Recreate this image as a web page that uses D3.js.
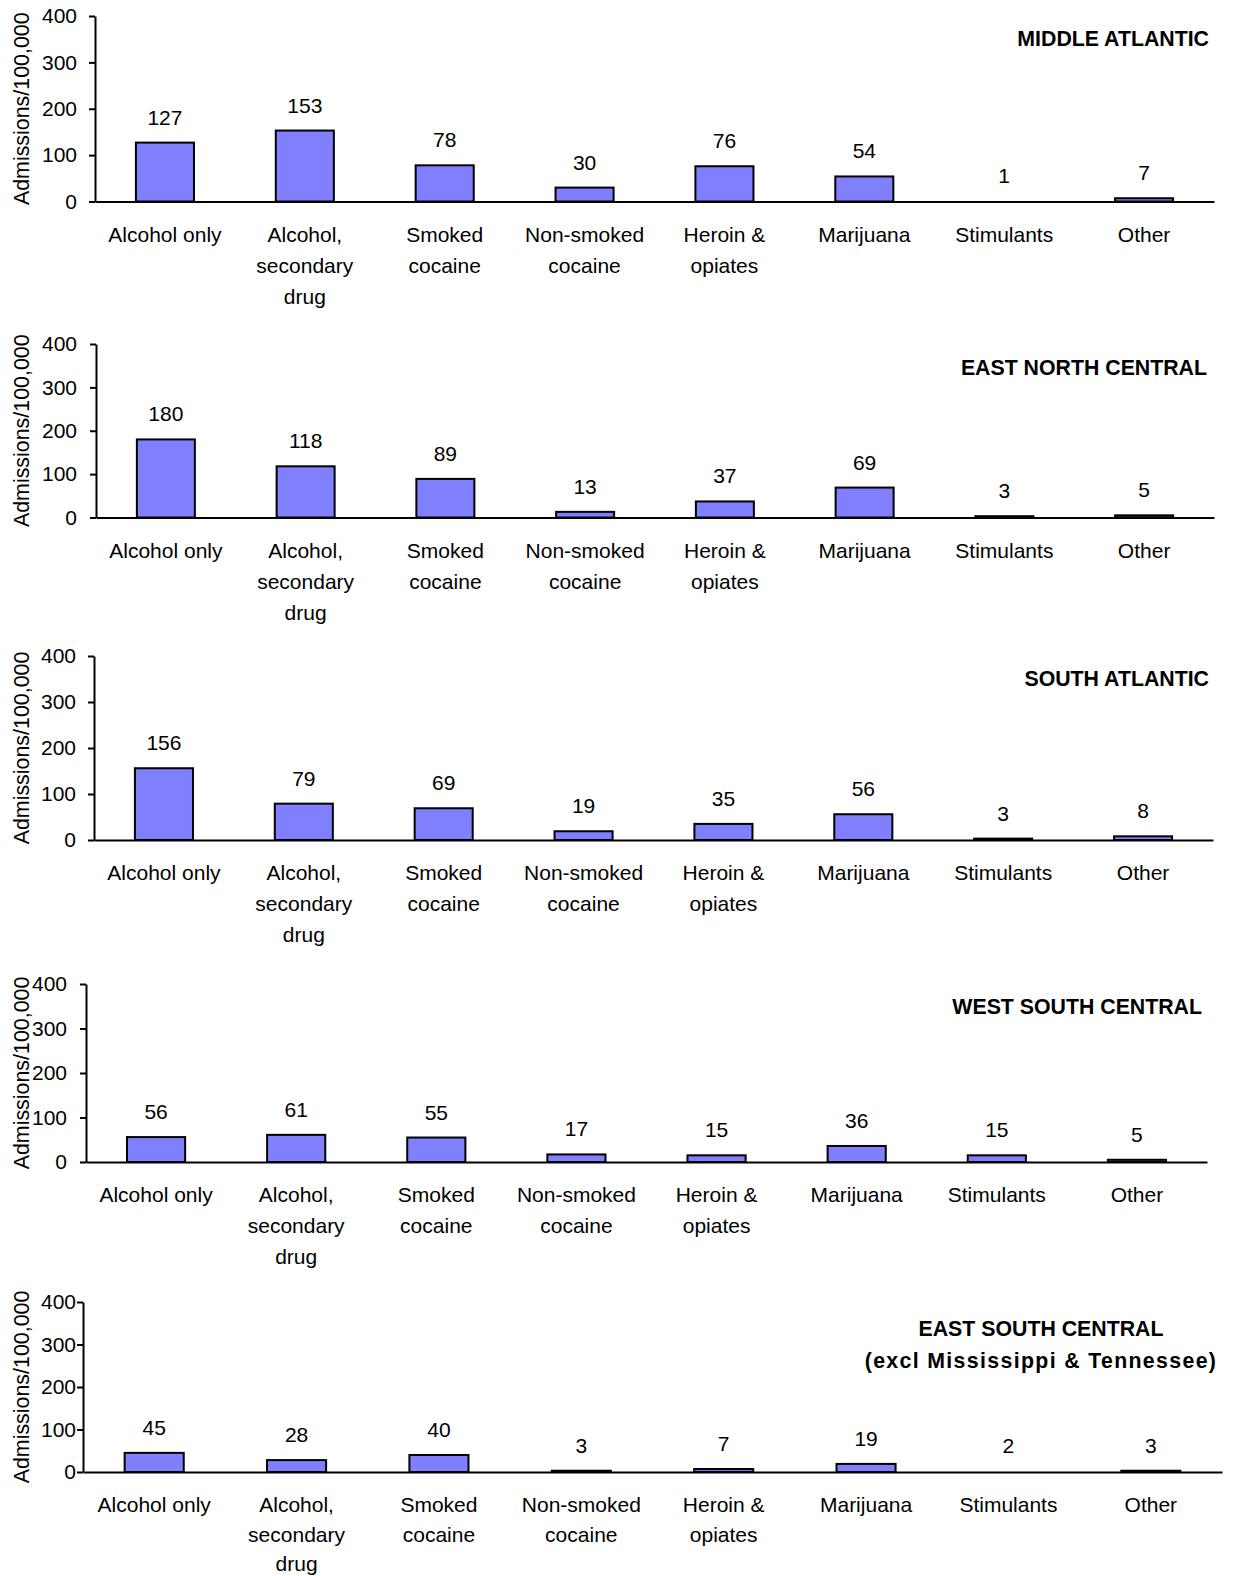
<!DOCTYPE html>
<html>
<head>
<meta charset="utf-8">
<script src="https://cdn.jsdelivr.net/npm/d3@7"></script>
<style>
  html, body { margin: 0; padding: 0; background: #fff; }
  svg text { font-family: "Liberation Sans", Arial, sans-serif; fill: #000; }
</style>
</head>
<body>
<svg id="chart" width="1233" height="1576"></svg>
<script>
// ---------- DATA ----------
const categories = ["Alcohol only", "Alcohol, secondary drug", "Smoked cocaine", "Non-smoked cocaine",
                    "Heroin & opiates", "Marijuana", "Stimulants", "Other"];
const categoryLines = [["Alcohol only"], ["Alcohol,", "secondary", "drug"], ["Smoked", "cocaine"],
                       ["Non-smoked", "cocaine"], ["Heroin &", "opiates"], ["Marijuana"], ["Stimulants"], ["Other"]];
const regionTitles = [
  ["MIDDLE ATLANTIC"],
  ["EAST NORTH CENTRAL"],
  ["SOUTH ATLANTIC"],
  ["WEST SOUTH CENTRAL"],
  ["EAST SOUTH CENTRAL", "(excl Mississippi & Tennessee)"]
];
const middleAtlantic    = [127, 153, 78, 30, 76, 54, 1, 7];
const eastNorthCentral  = [180, 118, 89, 13, 37, 69, 3, 5];
const southAtlantic     = [156, 79, 69, 19, 35, 56, 3, 8];
const westSouthCentral  = [56, 61, 55, 17, 15, 36, 15, 5];
const eastSouthCentral  = [45, 28, 40, 3, 7, 19, 2, 3];
const seriesValues = [middleAtlantic, eastNorthCentral, southAtlantic, westSouthCentral, eastSouthCentral];
const yTicks = [0, 100, 200, 300, 400];
const yAxisTitle = "Admissions/100,000";

// ---------- LAYOUT ----------
const layout = [
  { axisX: 95, yTop: 16,   yZero: 201.5, right: 1214, labelRight: 77, lineGap: 31,   title: { anchor: "end", x: 1209, y: [46] } },
  { axisX: 96, yTop: 344,  yZero: 517.5, right: 1214, labelRight: 77, lineGap: 31,   title: { anchor: "end", x: 1207, y: [375] } },
  { axisX: 94, yTop: 656,  yZero: 840,   right: 1213, labelRight: 76, lineGap: 31,   title: { anchor: "end", x: 1209, y: [686] } },
  { axisX: 86, yTop: 984,  yZero: 1162,  right: 1207, labelRight: 67, lineGap: 31,   title: { anchor: "end", x: 1202, y: [1014] } },
  { axisX: 83, yTop: 1302, yZero: 1472,  right: 1222, labelRight: 76, lineGap: 29.5, title: { anchor: "middle", x: 1041, y: [1336, 1368] } }
];
const fontSize = 21;
const barFill = "#8080ff";

const svg = d3.select("#chart");

seriesValues.forEach((vals, i) => {
  const L = layout[i];
  const g = svg.append("g");

  const x = d3.scaleBand().domain(categories).range([L.axisX, L.right])
    .paddingInner(0.585).paddingOuter(0.2925);
  const y = d3.scaleLinear().domain([0, 400]).range([L.yZero, L.yTop]);

  // bars (bars thinner than a pixel are not drawn, as in the original)
  g.selectAll("rect.bar").data(vals.map((v, k) => ({ v, c: categories[k] })))
    .enter().filter(d => (y(0) - y(d.v)) >= 1)
    .append("rect")
    .attr("class", "bar")
    .attr("x", d => x(d.c))
    .attr("width", x.bandwidth())
    .attr("y", d => y(d.v))
    .attr("height", d => y(0) - y(d.v))
    .attr("fill", barFill)
    .attr("stroke", "#000")
    .attr("stroke-width", 2);

  // value labels
  g.selectAll("text.val").data(vals.map((v, k) => ({ v, c: categories[k] })))
    .enter().append("text")
    .attr("class", "val")
    .attr("x", d => x(d.c) + x.bandwidth() / 2)
    .attr("y", d => y(d.v) - 18)
    .attr("text-anchor", "middle")
    .attr("font-size", fontSize)
    .text(d => d.v);

  // y axis
  const tickSize = 6;
  const yAxis = d3.axisLeft(y).tickValues(yTicks).tickSize(tickSize).tickSizeOuter(0)
    .tickPadding(L.axisX - tickSize - L.labelRight);
  const ya = g.append("g").attr("transform", `translate(${L.axisX},0)`).call(yAxis);
  ya.select(".domain").attr("stroke", "#000").attr("stroke-width", 2);
  ya.selectAll(".tick line").attr("stroke", "#000").attr("stroke-width", 2);
  ya.selectAll(".tick text").attr("font-size", fontSize).attr("fill", "#000")
    .attr("font-family", "'Liberation Sans', Arial, sans-serif");

  // x axis
  const xAxis = d3.axisBottom(x).tickSize(0).tickSizeOuter(0).tickFormat("");
  const xa = g.append("g").attr("transform", `translate(0,${L.yZero})`).call(xAxis);
  xa.select(".domain").attr("stroke", "#000").attr("stroke-width", 2);

  // category labels (multi-line)
  categories.forEach((c, k) => {
    const t = g.append("text")
      .attr("x", x(c) + x.bandwidth() / 2)
      .attr("y", L.yZero + 40)
      .attr("text-anchor", "middle")
      .attr("font-size", fontSize);
    categoryLines[k].forEach((line, j) => {
      t.append("tspan").attr("x", x(c) + x.bandwidth() / 2)
        .attr("y", L.yZero + 40 + j * L.lineGap).text(line);
    });
  });

  // y axis title
  g.append("text")
    .attr("transform", `translate(29,${(L.yTop + L.yZero) / 2}) rotate(-90)`)
    .attr("text-anchor", "middle")
    .attr("font-size", 21.4)
    .text(yAxisTitle);

  // region title
  regionTitles[i].forEach((line, j) => {
    g.append("text")
      .attr("x", L.title.x)
      .attr("y", L.title.y[j])
      .attr("text-anchor", L.title.anchor)
      .attr("font-size", 21.3)
      .attr("font-weight", "bold")
      .attr("letter-spacing", j === 1 ? 1.35 : 0)
      .text(line);
  });
});
</script>
</body>
</html>
